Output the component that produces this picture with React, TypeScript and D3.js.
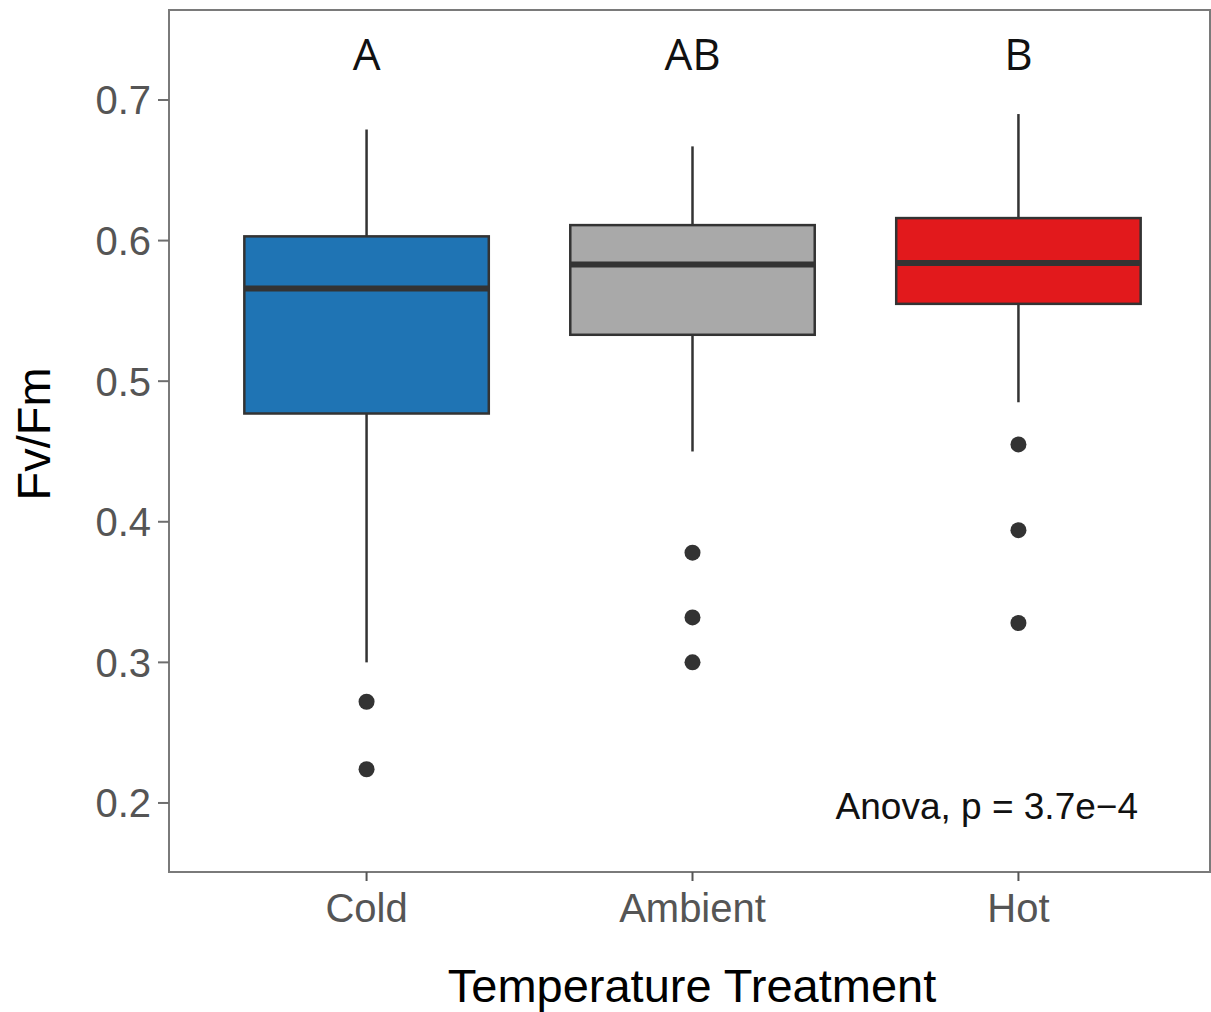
import React, { useEffect, useRef } from "react";
import * as d3 from "d3";

// groups and their box statistics
const treatments = ["Cold", "Ambient", "Hot"];
const fills = ["#1f74b4", "#a9a9a9", "#e2191c"];
const letters = ["A", "AB", "B"];
const whiskerLow = [0.3, 0.45, 0.485];
const q1 = [0.477, 0.533, 0.555];
const median = [0.566, 0.583, 0.584];
const q3 = [0.603, 0.611, 0.616];
const whiskerHigh = [0.679, 0.667, 0.69];
const outliers = [
  [0.272, 0.224],
  [0.378, 0.332, 0.3],
  [0.455, 0.394, 0.328]
];
const yTicks = [0.2, 0.3, 0.4, 0.5, 0.6, 0.7];
const annotation = "Anova, p = 3.7e\u22124";

function App() {
  const ref = useRef<SVGSVGElement>(null);

  useEffect(() => {
    const width = 1211;
    const height = 1012;
    const left = 169;
    const right = 1210;
    const top = 10;
    const bottom = 872;
    const font = "Liberation Sans, Arial, sans-serif";

    const svg = d3.select(ref.current);
    svg.selectAll("*").remove();
    svg.attr("width", width).attr("height", height);

    const x = d3.scalePoint().domain(treatments).range([171, 1214]).padding(0.6);
    const y = d3.scaleLinear().domain([0.1509, 0.764]).range([bottom, top]);
    const boxW = x.step() * 0.75;

    // panel
    svg
      .append("rect")
      .attr("x", left)
      .attr("y", top)
      .attr("width", right - left)
      .attr("height", bottom - top)
      .attr("fill", "#fff")
      .attr("stroke", "#7a7a7a")
      .attr("stroke-width", 2);

    // y axis ticks + labels
    const yAx = svg.append("g");
    yAx
      .selectAll("line")
      .data(yTicks)
      .join("line")
      .attr("x1", left - 11)
      .attr("x2", left)
      .attr("y1", d => y(d))
      .attr("y2", d => y(d))
      .attr("stroke", "#6e6e6e")
      .attr("stroke-width", 2);
    yAx
      .selectAll("text")
      .data(yTicks)
      .join("text")
      .attr("x", left - 18)
      .attr("y", d => y(d))
      .attr("dy", "0.36em")
      .attr("text-anchor", "end")
      .attr("font-family", font)
      .attr("font-size", 40)
      .attr("fill", "#555")
      .text(d => d.toFixed(1));

    // x axis ticks + labels
    const xAx = svg.append("g");
    xAx
      .selectAll("line")
      .data(treatments)
      .join("line")
      .attr("x1", d => x(d)!)
      .attr("x2", d => x(d)!)
      .attr("y1", bottom)
      .attr("y2", bottom + 9)
      .attr("stroke", "#555")
      .attr("stroke-width", 2);
    xAx
      .selectAll("text")
      .data(treatments)
      .join("text")
      .attr("x", d => x(d)!)
      .attr("y", 922)
      .attr("text-anchor", "middle")
      .attr("font-family", font)
      .attr("font-size", 40)
      .attr("fill", "#555")
      .text(d => d);

    // axis titles
    svg
      .append("text")
      .attr("x", 692)
      .attr("y", 1002)
      .attr("text-anchor", "middle")
      .attr("font-family", font)
      .attr("font-size", 47)
      .attr("fill", "#000")
      .text("Temperature Treatment");
    svg
      .append("text")
      .attr("transform", "translate(50,434) rotate(-90)")
      .attr("text-anchor", "middle")
      .attr("font-family", font)
      .attr("font-size", 47)
      .attr("fill", "#000")
      .text("Fv/Fm");

    // boxes
    const g = svg.append("g");
    treatments.forEach((t, i) => {
      const cx = x(t)!;
      const stroke = "#333";
      g.append("line")
        .attr("x1", cx)
        .attr("x2", cx)
        .attr("y1", y(whiskerHigh[i]))
        .attr("y2", y(q3[i]))
        .attr("stroke", stroke)
        .attr("stroke-width", 2.5);
      g.append("line")
        .attr("x1", cx)
        .attr("x2", cx)
        .attr("y1", y(q1[i]))
        .attr("y2", y(whiskerLow[i]))
        .attr("stroke", stroke)
        .attr("stroke-width", 2.5);
      g.append("rect")
        .attr("x", cx - boxW / 2)
        .attr("width", boxW)
        .attr("y", y(q3[i]))
        .attr("height", y(q1[i]) - y(q3[i]))
        .attr("fill", fills[i])
        .attr("stroke", stroke)
        .attr("stroke-width", 2.5);
      g.append("line")
        .attr("x1", cx - boxW / 2)
        .attr("x2", cx + boxW / 2)
        .attr("y1", y(median[i]))
        .attr("y2", y(median[i]))
        .attr("stroke", stroke)
        .attr("stroke-width", 6);
      g.selectAll(null)
        .data(outliers[i])
        .join("circle")
        .attr("cx", cx)
        .attr("cy", d => y(d))
        .attr("r", 8)
        .attr("fill", stroke);
      g.append("text")
        .attr("x", cx)
        .attr("y", 70)
        .attr("text-anchor", "middle")
        .attr("font-family", "Open Sans, sans-serif")
        .attr("font-size", 44)
        .attr("fill", "#111")
        .text(letters[i]);
    });

    svg
      .append("text")
      .attr("x", 1138)
      .attr("y", 819)
      .attr("text-anchor", "end")
      .attr("font-family", font)
      .attr("font-size", 37)
      .attr("fill", "#111")
      .text(annotation);
  }, []);

  return (
    <svg ref={ref} style={{ position: "absolute", left: 0, top: 0, background: "#fff" }}></svg>
  );
}

export default App;
